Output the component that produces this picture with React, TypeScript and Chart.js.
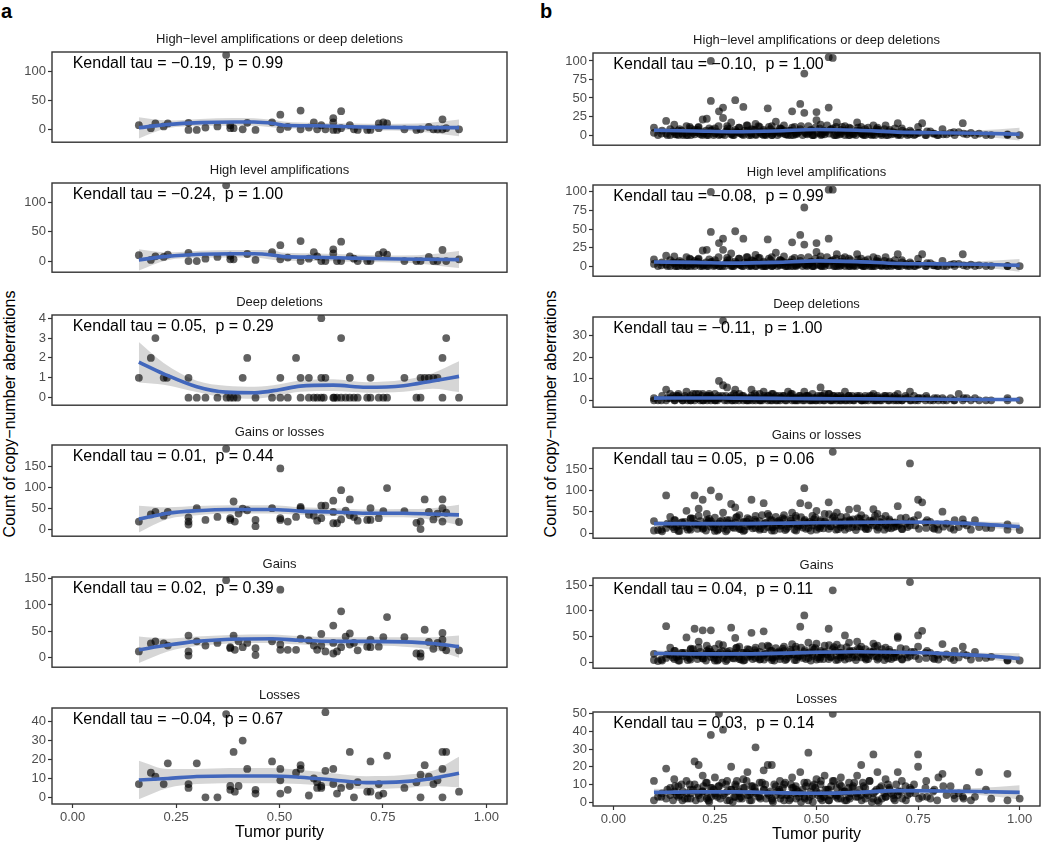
import React, { useEffect, useRef } from "react";
import { Chart, registerables } from "chart.js";

Chart.register(...registerables);

const FONT = "'Liberation Sans', Arial, Helvetica, sans-serif";

// ---------- shared axis data ----------
const purityTicks = [0, 0.25, 0.5, 0.75, 1];
const purityMin = -0.05;
const purityMax = 1.05;

// ---------- panel a (points as [purity, count]) ----------
const aAmpDel: [number, number][] = [
  [0.160, 8], [0.189, 3], [0.200, 11], [0.220, 6], [0.230, 11], [0.280, 0], [0.280, 12], [0.300, 0], [0.321, 4], [0.350, 6],
  [0.371, 128], [0.381, 3], [0.381, 8], [0.389, 3], [0.411, 1], [0.422, 12], [0.442, 0], [0.482, 13], [0.502, 26], [0.502, 1],
  [0.520, 5], [0.551, 33], [0.551, 1], [0.571, 4], [0.583, 13], [0.591, 1], [0.601, 8], [0.611, 1], [0.630, 20], [0.630, 13],
  [0.630, 0], [0.639, 0], [0.649, 32], [0.649, 3], [0.670, 8], [0.680, 1], [0.689, 0], [0.712, 0], [0.720, 0], [0.740, 11],
  [0.740, 3], [0.751, 13], [0.760, 11], [0.802, 1], [0.831, 0], [0.841, 1], [0.861, 5], [0.872, 1], [0.882, 1], [0.894, 18],
  [0.894, 1], [0.903, 3], [0.934, 1],
];
const aAmp: [number, number][] = [
  [0.160, 10], [0.189, 2], [0.200, 8], [0.220, 7], [0.230, 11], [0.280, 14], [0.280, 0], [0.300, 0], [0.321, 4], [0.350, 7],
  [0.371, 129], [0.381, 3], [0.381, 9], [0.389, 3], [0.422, 12], [0.442, 2], [0.482, 15], [0.502, 27], [0.502, 3], [0.520, 6],
  [0.551, 34], [0.551, 0], [0.571, 4], [0.583, 15], [0.591, 8], [0.601, 0], [0.611, 0], [0.630, 20], [0.630, 13], [0.639, 0],
  [0.649, 33], [0.649, 0], [0.670, 8], [0.680, 4], [0.689, 0], [0.712, 0], [0.720, 0], [0.740, 11], [0.751, 15], [0.760, 11],
  [0.802, 0], [0.831, 0], [0.841, 0], [0.861, 7], [0.872, 0], [0.882, 0], [0.894, 19], [0.903, 0], [0.934, 3],
];
const aDel: [number, number][] = [
  [0.160, 1], [0.189, 2], [0.200, 3], [0.220, 1], [0.228, 1], [0.280, 1], [0.280, 0], [0.300, 0], [0.321, 0], [0.350, 0],
  [0.372, 0], [0.381, 0], [0.389, 0], [0.398, 0], [0.411, 1], [0.422, 2], [0.442, 0], [0.482, 0], [0.502, 1], [0.502, 0],
  [0.520, 0], [0.540, 2], [0.551, 1], [0.551, 0], [0.571, 1], [0.571, 0], [0.583, 0], [0.591, 0], [0.601, 0], [0.607, 0],
  [0.601, 1], [0.601, 4], [0.611, 1], [0.630, 0], [0.632, 0], [0.639, 0], [0.649, 0], [0.660, 0], [0.670, 0], [0.680, 0],
  [0.689, 0], [0.649, 3], [0.670, 1], [0.712, 0], [0.720, 1], [0.720, 0], [0.740, 0], [0.751, 0], [0.760, 0], [0.802, 1],
  [0.831, 0], [0.841, 0], [0.841, 1], [0.851, 1], [0.861, 1], [0.872, 1], [0.882, 1], [0.894, 2], [0.903, 3], [0.894, 0],
  [0.934, 0],
];
const aGainLoss: [number, number][] = [
  [0.160, 18], [0.189, 35], [0.200, 41], [0.220, 32], [0.230, 41], [0.280, 28], [0.280, 18], [0.280, 11], [0.300, 50], [0.321, 22],
  [0.350, 29], [0.371, 192], [0.381, 26], [0.381, 22], [0.389, 66], [0.392, 18], [0.401, 37], [0.411, 49], [0.422, 45], [0.442, 22],
  [0.442, 7], [0.482, 50], [0.502, 145], [0.502, 26], [0.502, 22], [0.520, 18], [0.540, 29], [0.551, 53], [0.551, 50], [0.571, 34],
  [0.583, 32], [0.591, 20], [0.601, 56], [0.601, 26], [0.611, 56], [0.630, 68], [0.630, 41], [0.630, 14], [0.639, 14], [0.649, 93],
  [0.649, 23], [0.660, 44], [0.670, 71], [0.670, 33], [0.680, 29], [0.689, 20], [0.712, 22], [0.720, 50], [0.720, 22], [0.740, 26],
  [0.751, 43], [0.760, 98], [0.802, 43], [0.831, 15], [0.841, 0], [0.841, 18], [0.851, 71], [0.861, 41], [0.872, 23], [0.882, 37],
  [0.894, 71], [0.894, 50], [0.894, 18], [0.903, 39], [0.934, 17],
];
const aGain: [number, number][] = [
  [0.160, 12], [0.189, 27], [0.200, 31], [0.220, 27], [0.230, 23], [0.280, 42], [0.280, 12], [0.280, 4], [0.300, 31], [0.321, 23],
  [0.350, 28], [0.371, 147], [0.381, 20], [0.381, 18], [0.389, 42], [0.392, 15], [0.401, 31], [0.411, 20], [0.422, 28], [0.442, 18],
  [0.442, 5], [0.482, 31], [0.502, 129], [0.502, 15], [0.502, 25], [0.520, 15], [0.540, 15], [0.551, 36], [0.571, 33], [0.583, 23],
  [0.591, 15], [0.601, 45], [0.601, 23], [0.611, 12], [0.630, 61], [0.630, 28], [0.630, 8], [0.639, 12], [0.649, 88], [0.649, 20],
  [0.660, 40], [0.670, 46], [0.670, 25], [0.680, 28], [0.689, 14], [0.712, 21], [0.720, 34], [0.720, 20], [0.740, 21], [0.751, 39],
  [0.760, 77], [0.802, 39], [0.831, 8], [0.841, 2], [0.841, 8], [0.851, 53], [0.861, 30], [0.872, 17], [0.882, 28], [0.894, 47],
  [0.894, 34], [0.894, 20], [0.903, 14], [0.934, 14],
];
const aLoss: [number, number][] = [
  [0.160, 7], [0.189, 13], [0.200, 11], [0.220, 7], [0.230, 18], [0.280, 7], [0.280, 5], [0.300, 18], [0.321, 0], [0.350, 0],
  [0.371, 44], [0.381, 6], [0.381, 4], [0.389, 24], [0.392, 3], [0.401, 6], [0.411, 30], [0.422, 15], [0.442, 4], [0.442, 2],
  [0.482, 19], [0.502, 15], [0.502, 9], [0.502, 2], [0.520, 4], [0.540, 13], [0.551, 17], [0.551, 15], [0.571, 1], [0.583, 10],
  [0.591, 8], [0.591, 5], [0.601, 5], [0.601, 6], [0.611, 14], [0.611, 45], [0.630, 15], [0.630, 7], [0.639, 2], [0.649, 5],
  [0.670, 24], [0.670, 6], [0.680, 0], [0.689, 8], [0.712, 3], [0.720, 19], [0.720, 3], [0.740, 1], [0.740, 7], [0.751, 2],
  [0.760, 22], [0.802, 5], [0.831, 8], [0.841, 12], [0.841, 0], [0.851, 17], [0.861, 11], [0.872, 7], [0.882, 9], [0.894, 24],
  [0.894, 15], [0.894, 0], [0.903, 24], [0.934, 3],
];

// smooth fits (loess) for panel a
const aSmoothXA = [0.160, 0.228, 0.309, 0.389, 0.438, 0.486, 0.510, 0.591, 0.672, 0.753, 0.834, 0.934];
const aAmpDelFit = [3.8, 9, 12.4, 13.4, 13.4, 10.8, 8, 7, 5.4, 4.3, 3.8, 3.8];
const aAmpDelLo = [-14.5, 2.7, 6.5, 7, 7, 4, 2.7, 1.6, 0, -1, -2.7, -10.8];
const aAmpDelHi = [21.5, 16, 18.8, 20.4, 20, 17, 14.5, 11.8, 10.8, 10.2, 10.8, 17.7];
const aAmpFit = [2, 8, 11.5, 12.5, 12.5, 10, 7.5, 6.5, 5, 3.8, 3, 2.5];
const aAmpLo = [-16, 1.5, 5.5, 6, 6, 2, 1, 0, -1, -2, -4, -12];
const aAmpHi = [20, 14.5, 17.5, 19, 19, 18, 14, 13, 11, 9.6, 10, 17];

const aSmoothXB = [0.16, 0.22, 0.30, 0.37, 0.44, 0.50, 0.55, 0.63, 0.71, 0.80, 0.87, 0.934];
const aDelFit = [1.79, 1.2, 0.55, 0.28, 0.25, 0.4, 0.58, 0.63, 0.52, 0.6, 0.84, 1.07];
const aDelLo = [0.76, 0.65, 0.28, 0.0, -0.05, 0.12, 0.3, 0.33, 0.25, 0.3, 0.45, 0.28];
const aDelHi = [2.8, 1.75, 0.85, 0.6, 0.55, 0.68, 0.86, 0.93, 0.78, 0.9, 1.23, 1.83];

const aSmoothXC = [0.16, 0.23, 0.30, 0.38, 0.48, 0.55, 0.63, 0.71, 0.80, 0.87, 0.934];
const aGainLossFit = [24, 38, 44, 47, 47, 43, 41, 38, 38, 36, 34];
const aGainLossLo = [-8, 24, 33, 37, 37, 34, 32, 29, 28, 22, 10];
const aGainLossHi = [56, 52, 55, 57, 57, 52, 50, 47, 48, 50, 58];
const aGainFit = [15, 24, 31, 35, 36, 33, 31, 31, 30, 27, 21];
const aGainLo = [-10, 12, 22, 27, 28, 25, 23, 23, 21, 15, 0];
const aGainHi = [40, 36, 40, 43, 44, 41, 39, 39, 39, 39, 42];
const aLossFit = [9.2, 10, 11, 11.3, 11.3, 10.6, 9.2, 7.8, 8.3, 10, 12.7];
const aLossLo = [-1, 5, 7, 7.5, 7.5, 7, 5.8, 4.5, 5, 6, 5.3];
const aLossHi = [19.4, 15, 15, 15.5, 15.5, 14.5, 12.8, 11.2, 11.8, 14, 21.5];

// ---------- panel b: sample group 1 (incl. outliers) ----------
const bPurity = [
  0.10, 0.10, 0.11, 0.12, 0.13, 0.13, 0.14, 0.14, 0.15, 0.15,
  0.16, 0.16, 0.17, 0.18, 0.18, 0.19, 0.19, 0.20, 0.20, 0.21,
  0.21, 0.22, 0.22, 0.23, 0.23, 0.24, 0.24, 0.24, 0.25, 0.25,
  0.26, 0.26, 0.27, 0.27, 0.28, 0.28, 0.29, 0.29, 0.30, 0.30,
  0.31, 0.31, 0.32, 0.32, 0.33, 0.33, 0.34, 0.34, 0.35, 0.35,
  0.36, 0.36, 0.37, 0.37, 0.38, 0.38, 0.39, 0.39, 0.40, 0.40,
  0.41, 0.41, 0.42, 0.42, 0.43, 0.44, 0.44, 0.45, 0.45, 0.46,
  0.46, 0.47, 0.47, 0.48, 0.48, 0.49, 0.49, 0.50, 0.50, 0.51,
  0.51, 0.52, 0.52, 0.53, 0.53, 0.54, 0.54, 0.55, 0.55, 0.56,
  0.56, 0.57, 0.57, 0.58, 0.58, 0.59, 0.60, 0.60, 0.61, 0.61,
  0.62, 0.62, 0.63, 0.64, 0.64, 0.65, 0.65, 0.66, 0.67, 0.67,
  0.68, 0.69, 0.70, 0.70, 0.71, 0.72, 0.73, 0.73, 0.74, 0.75,
  0.75, 0.76, 0.77, 0.78, 0.79, 0.80, 0.81, 0.82, 0.83, 0.84,
  0.85, 0.86, 0.87, 0.88, 0.89, 0.90, 0.93, 0.97, 0.97, 1.00,
];
const bAmpDel = [
  10, 3, 0, 6, 19, 2, 0, 8, 14, 4,
  0, 6, 2, 12, 0, 5, 9, 1, 7, 3,
  11, 21, 4, 22, 0, 100, 46, 6, 2, 9,
  32, 0, 37, 23, 5, 12, 17, 1, 47, 7,
  3, 10, 38, 0, 6, 13, 2, 8, 15, 1,
  4, 11, 0, 7, 36, 3, 12, 0, 18, 5,
  9, 2, 13, 6, 0, 10, 32, 4, 1, 42,
  8, 30, 83, 3, 12, 0, 6, 31, 20, 2,
  14, 5, 1, 105, 37, 104, 9, 0, 17, 4,
  7, 12, 0, 3, 10, 1, 17, 6, 2, 11,
  0, 8, 4, 13, 1, 5, 10, 0, 13, 3,
  7, 2, 16, 0, 9, 4, 1, 6, 0, 11,
  3, 16, 0, 5, 2, 0, 8, 1, 3, 0,
  4, 16, 1, 3, 0, 2, 0, 1, 0, 0,
];
const bAmp = [
  9, 3, 0, 5, 14, 2, 0, 8, 13, 4,
  0, 5, 1, 12, 0, 4, 9, 0, 7, 3,
  10, 21, 3, 22, 0, 100, 46, 5, 1, 8,
  31, 0, 37, 22, 4, 11, 17, 0, 47, 6,
  2, 10, 37, 0, 5, 12, 1, 8, 15, 0,
  3, 11, 0, 6, 36, 2, 12, 0, 18, 4,
  8, 1, 13, 5, 0, 9, 32, 3, 0, 42,
  7, 29, 79, 2, 12, 0, 5, 31, 19, 1,
  13, 4, 0, 103, 37, 103, 8, 0, 16, 3,
  6, 12, 0, 2, 10, 0, 16, 5, 1, 10,
  0, 7, 3, 12, 0, 4, 10, 0, 12, 2,
  6, 1, 16, 0, 8, 3, 0, 5, 0, 10,
  2, 16, 0, 4, 1, 0, 7, 0, 2, 0,
  3, 16, 0, 2, 0, 1, 0, 0, 0, 0,
];
const bDel = [
  0, 1, 0, 2, 5, 0, 1, 3, 0, 1,
  2, 3, 0, 1, 4, 0, 2, 1, 0, 3,
  1, 3, 0, 2, 1, 0, 2, 1, 0, 3,
  9, 1, 37, 7, 0, 6, 2, 1, 5, 0,
  1, 3, 0, 2, 1, 0, 5, 2, 0, 1,
  3, 0, 4, 1, 2, 0, 1, 3, 0, 2,
  1, 0, 2, 1, 4, 0, 3, 1, 0, 2,
  1, 4, 0, 2, 1, 0, 3, 1, 0, 6,
  2, 3, 0, 1, 3, 0, 2, 1, 0, 2,
  1, 4, 0, 2, 1, 0, 1, 2, 0, 1,
  2, 0, 1, 3, 0, 1, 2, 0, 2, 1,
  2, 0, 3, 1, 0, 1, 4, 0, 2, 1,
  0, 1, 2, 0, 1, 0, 1, 0, 1, 0,
  3, 0, 1, 0, 1, 0, 0, 1, 0, 0,
];
const bGainLoss = [
  28, 6, 7, 4, 88, 12, 38, 20, 9, 30,
  18, 5, 25, 52, 14, 33, 8, 88, 22, 57,
  40, 78, 10, 30, 45, 100, 15, 28, 5, 36,
  85, 22, 12, 48, 30, 8, 68, 18, 60, 25,
  10, 42, 26, 5, 35, 16, 78, 22, 12, 40,
  28, 8, 70, 20, 45, 14, 30, 6, 38, 18,
  25, 10, 42, 32, 15, 48, 22, 6, 35, 70,
  18, 105, 28, 65, 12, 40, 24, 8, 52, 30,
  16, 45, 26, 72, 10, 190, 35, 20, 48, 14,
  38, 28, 8, 55, 22, 32, 58, 15, 42, 25,
  12, 35, 20, 56, 30, 8, 45, 24, 18, 40,
  28, 14, 63, 22, 10, 36, 163, 18, 30, 78,
  42, 72, 12, 26, 10, 8, 50, 22, 12, 30,
  14, 32, 18, 8, 30, 14, 12, 20, 8, 7,
];
const bGain = [
  16, 4, 2, 3, 70, 8, 28, 14, 6, 22,
  12, 3, 18, 48, 10, 24, 5, 65, 16, 40,
  28, 62, 7, 22, 32, 62, 10, 20, 3, 26,
  35, 15, 8, 33, 20, 5, 67, 12, 47, 18,
  6, 30, 18, 3, 25, 10, 57, 15, 8, 28,
  20, 5, 60, 14, 32, 9, 22, 4, 27, 12,
  18, 6, 30, 22, 10, 35, 15, 4, 25, 69,
  12, 91, 20, 38, 8, 28, 16, 5, 36, 22,
  10, 32, 18, 65, 6, 140, 25, 13, 34, 9,
  27, 52, 5, 38, 15, 22, 40, 10, 30, 18,
  8, 25, 14, 36, 21, 5, 32, 16, 12, 28,
  20, 9, 47, 50, 6, 25, 156, 12, 20, 52,
  30, 61, 8, 18, 6, 5, 35, 15, 8, 22,
  9, 30, 13, 5, 20, 8, 10, 3, 4, 3,
];
const bLoss = [
  12, 1, 3, 5, 19, 2, 8, 4, 13, 6,
  3, 9, 1, 12, 5, 7, 2, 23, 10, 21,
  4, 15, 6, 2, 11, 38, 8, 3, 14, 5,
  50, 9, 41, 4, 12, 1, 20, 7, 3, 10,
  5, 2, 13, 8, 17, 4, 9, 1, 31, 6,
  11, 3, 7, 18, 21, 5, 21, 2, 9, 4,
  12, 6, 1, 10, 4, 8, 14, 2, 7, 17,
  5, 3, 11, 28, 1, 9, 4, 13, 6, 2,
  10, 3, 15, 7, 1, 50, 12, 4, 8, 2,
  14, 6, 1, 11, 3, 9, 5, 15, 21, 4,
  2, 8, 12, 27, 5, 1, 17, 9, 3, 13,
  7, 2, 17, 4, 12, 1, 8, 5, 10, 27,
  20, 3, 12, 2, 7, 14, 16, 4, 9, 2,
  5, 3, 8, 1, 3, 17, 2, 16, 1, 2,
];

// ---------- panel b: sample group 2 (dense bulk) ----------
const bPurity2 = [
  0.118, 0.133, 0.147, 0.152, 0.163, 0.171, 0.176, 0.188, 0.191, 0.203,
  0.207, 0.214, 0.219, 0.228, 0.231, 0.236, 0.247, 0.251, 0.259, 0.263,
  0.274, 0.277, 0.286, 0.291, 0.297, 0.304, 0.309, 0.317, 0.323, 0.334,
  0.336, 0.343, 0.351, 0.357, 0.366, 0.371, 0.376, 0.387, 0.393, 0.396,
  0.404, 0.411, 0.417, 0.426, 0.433, 0.437, 0.446, 0.449, 0.457, 0.466,
  0.471, 0.477, 0.486, 0.491, 0.497, 0.503, 0.511, 0.517, 0.526, 0.531,
  0.536, 0.546, 0.553, 0.557, 0.563, 0.574, 0.579, 0.584, 0.593, 0.597,
  0.606, 0.611, 0.616, 0.627, 0.631, 0.639, 0.644, 0.653, 0.656, 0.667,
  0.671, 0.679, 0.684, 0.693, 0.696, 0.707, 0.711, 0.719, 0.724, 0.733,
  0.743, 0.752, 0.768, 0.772, 0.787, 0.797, 0.812, 0.838, 0.862, 0.917,
  0.156, 0.168, 0.183, 0.196, 0.209, 0.222, 0.234, 0.243, 0.256, 0.268,
  0.281, 0.294, 0.302, 0.314, 0.328, 0.339, 0.348, 0.362, 0.374, 0.383,
  0.391, 0.408, 0.414, 0.423, 0.436, 0.443, 0.454, 0.462, 0.474, 0.483,
  0.494, 0.508, 0.514, 0.522, 0.534, 0.543, 0.548, 0.561, 0.568, 0.582,
  0.588, 0.602, 0.614, 0.622, 0.636, 0.648, 0.661, 0.676, 0.689, 0.702,
];
const bAmpDel2 = [
  2, 0, 5, 1, 8, 0, 3, 11, 0, 4,
  7, 1, 0, 6, 2, 9, 0, 3, 12, 1,
  0, 5, 8, 2, 0, 4, 10, 1, 6, 0,
  3, 7, 0, 12, 1, 5, 0, 8, 2, 4,
  0, 9, 3, 1, 6, 0, 11, 2, 5, 0,
  4, 1, 7, 0, 10, 3, 0, 6, 13, 2,
  8, 0, 4, 1, 11, 5, 0, 9, 2, 0,
  6, 3, 0, 10, 1, 4, 0, 7, 2, 8,
  0, 5, 1, 9, 3, 0, 6, 2, 0, 4,
  1, 3, 0, 5, 2, 0, 1, 4, 2, 0,
  1, 6, 0, 3, 10, 2, 0, 7, 4, 1,
  9, 0, 5, 2, 13, 0, 7, 3, 1, 11,
  0, 4, 8, 1, 6, 0, 3, 12, 2, 5,
  0, 9, 1, 4, 7, 0, 11, 2, 6, 0,
  3, 10, 1, 5, 0, 8, 2, 0, 4, 1,
];
const bAmp2 = [
  1, 0, 5, 0, 7, 0, 3, 10, 0, 4,
  6, 0, 0, 5, 2, 9, 0, 2, 12, 0,
  0, 4, 8, 1, 0, 3, 10, 0, 5, 0,
  2, 7, 0, 11, 0, 4, 0, 8, 1, 3,
  0, 8, 2, 0, 5, 0, 11, 1, 4, 0,
  3, 0, 6, 0, 10, 2, 0, 5, 12, 1,
  7, 0, 3, 0, 10, 4, 0, 8, 1, 0,
  5, 2, 0, 9, 0, 3, 0, 6, 1, 7,
  0, 4, 0, 8, 2, 0, 5, 1, 0, 3,
  0, 2, 0, 4, 1, 0, 0, 3, 1, 0,
  0, 5, 0, 2, 9, 1, 0, 6, 3, 0,
  8, 0, 4, 1, 12, 0, 6, 2, 0, 10,
  0, 3, 7, 0, 5, 0, 2, 11, 1, 4,
  0, 8, 0, 3, 6, 0, 10, 1, 5, 0,
  2, 9, 0, 4, 0, 7, 1, 0, 3, 0,
];
const bDel2 = [
  0, 1, 2, 0, 1, 0, 2, 1, 0, 3,
  1, 0, 2, 1, 0, 3, 1, 0, 2, 1,
  0, 2, 1, 0, 3, 1, 0, 2, 1, 0,
  1, 0, 2, 1, 0, 2, 1, 0, 3, 1,
  0, 1, 2, 0, 1, 3, 0, 1, 2, 0,
  1, 2, 0, 1, 0, 2, 1, 0, 1, 3,
  0, 1, 2, 0, 1, 0, 2, 1, 0, 1,
  2, 0, 1, 0, 2, 1, 0, 1, 0, 2,
  1, 0, 1, 2, 0, 1, 0, 2, 1, 0,
  0, 1, 0, 1, 0, 1, 0, 0, 1, 0,
  2, 1, 0, 3, 1, 0, 2, 1, 0, 2,
  1, 0, 2, 1, 0, 1, 3, 0, 1, 2,
  0, 2, 1, 0, 2, 1, 0, 1, 2, 0,
  1, 0, 2, 1, 0, 2, 1, 0, 1, 0,
  2, 1, 0, 1, 2, 0, 1, 0, 1, 0,
];
const bGainLoss2 = [
  8, 22, 14, 30, 5, 18, 26, 12, 35, 20,
  10, 28, 16, 6, 24, 33, 13, 20, 9, 27,
  18, 4, 30, 22, 12, 38, 15, 25, 7, 32,
  20, 11, 27, 16, 42, 9, 23, 30, 14, 6,
  26, 17, 35, 10, 21, 29, 8, 40, 19, 13,
  31, 24, 6, 18, 36, 14, 27, 11, 22, 44,
  16, 30, 9, 25, 19, 38, 12, 28, 21, 7,
  34, 15, 24, 10, 29, 18, 40, 13, 26, 8,
  20, 32, 11, 25, 16, 35, 9, 22, 14, 28,
  18, 10, 25, 30, 12, 20, 15, 8, 22, 12,
  15, 25, 8, 34, 19, 12, 28, 21, 6, 30,
  23, 14, 36, 9, 27, 17, 31, 11, 24, 40,
  13, 29, 19, 7, 33, 22, 15, 37, 10, 26,
  32, 11, 21, 28, 16, 39, 8, 25, 18, 30,
  14, 35, 22, 9, 27, 17, 33, 12, 24, 19,
];
const bGain2 = [
  5, 15, 9, 22, 3, 12, 18, 8, 26, 14,
  6, 20, 11, 3, 17, 25, 8, 14, 5, 19,
  12, 2, 22, 15, 7, 28, 10, 18, 4, 24,
  14, 6, 19, 10, 31, 5, 16, 22, 9, 3,
  18, 11, 26, 6, 14, 21, 4, 30, 13, 8,
  23, 17, 3, 12, 27, 9, 19, 6, 15, 33,
  10, 22, 5, 18, 13, 29, 7, 20, 14, 4,
  25, 9, 17, 6, 21, 12, 30, 8, 18, 4,
  14, 24, 6, 18, 10, 27, 5, 15, 9, 20,
  12, 6, 18, 22, 8, 14, 10, 4, 16, 8,
  10, 18, 4, 25, 13, 7, 20, 15, 3, 22,
  16, 8, 27, 5, 19, 11, 23, 6, 17, 30,
  8, 21, 13, 4, 24, 15, 10, 28, 6, 19,
  24, 6, 15, 20, 10, 29, 4, 18, 12, 22,
  9, 26, 15, 5, 19, 11, 25, 7, 17, 13,
];
const bLoss2 = [
  3, 7, 1, 9, 4, 6, 2, 10, 5, 1,
  8, 2, 6, 11, 3, 0, 7, 4, 9, 2,
  5, 10, 1, 7, 3, 12, 6, 2, 8, 4,
  1, 9, 5, 3, 11, 7, 2, 6, 0, 10,
  6, 2, 8, 4, 1, 10, 5, 9, 3, 7,
  2, 11, 6, 0, 8, 4, 12, 3, 7, 1,
  9, 4, 2, 10, 6, 1, 8, 5, 11, 3,
  7, 1, 9, 4, 12, 2, 6, 0, 8, 5,
  3, 8, 5, 1, 10, 6, 2, 9, 4, 7,
  5, 2, 8, 3, 6, 1, 9, 4, 2, 7,
  4, 10, 2, 7, 5, 9, 1, 8, 3, 11,
  6, 0, 9, 3, 12, 5, 8, 2, 10, 4,
  1, 7, 4, 11, 2, 8, 6, 0, 9, 3,
  10, 5, 1, 7, 4, 12, 3, 9, 6, 2,
  8, 3, 11, 5, 0, 7, 2, 10, 4, 6,
];

const bSmoothX = [0.10, 0.20, 0.30, 0.40, 0.50, 0.60, 0.70, 0.80, 0.90, 1.00];
const bAmpDelFit = [6.4, 5.5, 4.5, 5.5, 7.5, 6.5, 4, 3, 2.5, 1];
const bAmpDelLo = [2.5, 3.5, 3, 4, 6, 5, 2.5, 1, -1.5, -7.5];
const bAmpDelHi = [10.5, 7.5, 6, 7, 9, 8, 5.5, 5, 6.5, 10];
const bAmpFit = [5.5, 5, 4, 5, 7, 6, 3.5, 3, 2.5, 1];
const bAmpLo = [1.5, 3, 2.5, 3.5, 5.5, 4.5, 2, 1, -1.5, -7.5];
const bAmpHi = [9.5, 7, 5.5, 6.5, 8.5, 7.5, 5, 5, 6.5, 9.5];
const bDelFit = [1.0, 1.1, 1.0, 0.9, 0.8, 0.7, 0.6, 0.5, 0.4, 0.3];
const bDelLo = [0.3, 0.8, 0.8, 0.7, 0.6, 0.5, 0.4, 0.2, -0.1, -0.6];
const bDelHi = [1.7, 1.4, 1.2, 1.1, 1.0, 0.9, 0.8, 0.8, 0.9, 1.2];
const bGainLossFit = [22, 22, 22, 23, 24, 25, 26, 25, 21, 15];
const bGainLossLo = [15, 19, 20, 21, 22, 23, 23, 21, 15, 5];
const bGainLossHi = [29, 25, 24, 25, 26, 27, 29, 29, 27, 25];
const bGainFit = [17, 16, 16, 17, 19, 20, 19, 17, 13, 7];
const bGainLo = [11, 13, 14, 15, 17, 18, 17, 14, 8, -3];
const bGainHi = [23, 19, 18, 19, 21, 22, 21, 20, 18, 17];
const bLossFit = [5.5, 5.8, 5.8, 5.3, 5, 5.5, 6.5, 6.3, 6, 5.5];
const bLossLo = [3.5, 4.8, 5, 4.7, 4.4, 4.8, 5.7, 5.2, 4, 1.5];
const bLossHi = [7.5, 6.8, 6.6, 5.9, 5.6, 6.2, 7.3, 7.4, 8, 9.5];

// ---------- texts ----------
const panelTitles = [
  "High\u2212level amplifications or deep deletions",
  "High level amplifications",
  "Deep deletions",
  "Gains or losses",
  "Gains",
  "Losses",
];
const aStats = [
  "Kendall tau = \u22120.19,  p = 0.99",
  "Kendall tau = \u22120.24,  p = 1.00",
  "Kendall tau = 0.05,  p = 0.29",
  "Kendall tau = 0.01,  p = 0.44",
  "Kendall tau = 0.02,  p = 0.39",
  "Kendall tau = \u22120.04,  p = 0.67",
];
const bStats = [
  "Kendall tau = \u22120.10,  p = 1.00",
  "Kendall tau = \u22120.08,  p = 0.99",
  "Kendall tau = \u22120.11,  p = 1.00",
  "Kendall tau = 0.05,  p = 0.06",
  "Kendall tau = 0.04,  p = 0.11",
  "Kendall tau = 0.03,  p = 0.14",
];

// y tick labels and ranges
const aYTicks = [[0, 50, 100], [0, 50, 100], [0, 1, 2, 3, 4], [0, 50, 100, 150], [0, 50, 100, 150], [0, 10, 20, 30, 40]];
const bYTicks = [[0, 25, 50, 75, 100], [0, 25, 50, 75, 100], [0, 10, 20, 30], [0, 50, 100, 150], [0, 50, 100, 150], [0, 10, 20, 30, 40, 50]];
const aYRange = [[-21, 133], [-19, 133], [-0.38, 4.16], [-17, 201], [-18, 153], [-3.5, 47.2]];
const bYRange = [[-13.7, 110.7], [-13.6, 109.3], [-3.2, 38.7], [-12, 199], [-12, 164], [-2.2, 51]];

// layout (pixel boxes of each plotting panel)
const aBox = { left: 52, right: 507 };
const bBox = { left: 593, right: 1040 };
const aTops = [52, 183, 315, 445, 577, 708];
const aBottoms = [148, 278, 411, 542, 673, 804];
const bTops = [53, 185, 317, 448, 578, 712];
const bBottoms = [151, 282, 413, 544, 674, 806];

type PanelDef = {
  title: string;
  stat: string;
  points: { x: number; y: number }[];
  sx: number[];
  fit: number[];
  lo: number[];
  hi: number[];
  yRange: number[];
  yTicks: number[];
  left: number;
  right: number;
  top: number;
  bottom: number;
  last: boolean;
};

const pairs = (p: [number, number][]) => p.map(([x, y]) => ({ x, y }));
const zipB = (ys: number[], ys2: number[]) =>
  ys.map((y, i) => ({ x: bPurity[i], y })).concat(ys2.map((y, i) => ({ x: bPurity2[i], y })));

const aPoints = [pairs(aAmpDel), pairs(aAmp), pairs(aDel), pairs(aGainLoss), pairs(aGain), pairs(aLoss)];
const aSX = [aSmoothXA, aSmoothXA, aSmoothXB, aSmoothXC, aSmoothXC, aSmoothXC];
const aFits = [aAmpDelFit, aAmpFit, aDelFit, aGainLossFit, aGainFit, aLossFit];
const aLos = [aAmpDelLo, aAmpLo, aDelLo, aGainLossLo, aGainLo, aLossLo];
const aHis = [aAmpDelHi, aAmpHi, aDelHi, aGainLossHi, aGainHi, aLossHi];

const bPoints = [
  zipB(bAmpDel, bAmpDel2),
  zipB(bAmp, bAmp2),
  zipB(bDel, bDel2),
  zipB(bGainLoss, bGainLoss2),
  zipB(bGain, bGain2),
  zipB(bLoss, bLoss2),
];
const bFits = [bAmpDelFit, bAmpFit, bDelFit, bGainLossFit, bGainFit, bLossFit];
const bLos = [bAmpDelLo, bAmpLo, bDelLo, bGainLossLo, bGainLo, bLossLo];
const bHis = [bAmpDelHi, bAmpHi, bDelHi, bGainLossHi, bGainHi, bLossHi];

const panels: PanelDef[] = [];
for (let i = 0; i < 6; i++) {
  panels.push({
    title: panelTitles[i], stat: aStats[i], points: aPoints[i],
    sx: aSX[i], fit: aFits[i], lo: aLos[i], hi: aHis[i],
    yRange: aYRange[i], yTicks: aYTicks[i],
    left: aBox.left, right: aBox.right, top: aTops[i], bottom: aBottoms[i], last: i === 5,
  });
}
for (let i = 0; i < 6; i++) {
  panels.push({
    title: panelTitles[i], stat: bStats[i], points: bPoints[i],
    sx: bSmoothX, fit: bFits[i], lo: bLos[i], hi: bHis[i],
    yRange: bYRange[i], yTicks: bYTicks[i],
    left: bBox.left, right: bBox.right, top: bTops[i], bottom: bBottoms[i], last: i === 5,
  });
}

const YW = 48;
const TT = 26;
const PR = 4;

function Panel({ p }: { p: PanelDef }) {
  const ref = useRef<HTMLCanvasElement>(null);
  const XH = p.last ? 38 : 4;
  const w = p.right - p.left + YW + PR;
  const h = p.bottom - p.top + TT + XH;

  useEffect(() => {
    const deco = {
      id: "deco",
      afterDatasetsDraw(chart: any) {
        const { ctx, chartArea } = chart;
        const xs = chart.scales.x;
        ctx.save();
        ctx.fillStyle = "#000";
        ctx.font = `16px ${FONT}`;
        ctx.textAlign = "left";
        ctx.textBaseline = "middle";
        ctx.fillText(p.stat, xs.getPixelForValue(0), chartArea.top + 12);
        ctx.restore();
      },
      afterDraw(chart: any) {
        const { ctx, chartArea } = chart;
        ctx.save();
        ctx.strokeStyle = "#333333";
        ctx.lineWidth = 1.4;
        ctx.strokeRect(chartArea.left, chartArea.top, chartArea.right - chartArea.left, chartArea.bottom - chartArea.top);
        ctx.fillStyle = "#1a1a1a";
        ctx.font = `13px ${FONT}`;
        ctx.textAlign = "center";
        ctx.textBaseline = "middle";
        ctx.fillText(p.title, (chartArea.left + chartArea.right) / 2, chartArea.top - 13);
        ctx.restore();
      },
    };

    const line = (ys: number[]) => p.sx.map((x, i) => ({ x, y: ys[i] }));

    const chart = new Chart(ref.current as HTMLCanvasElement, {
      type: "scatter",
      data: {
        datasets: [
          {
            type: "line",
            data: line(p.hi),
            borderColor: "rgba(0,0,0,0)",
            borderWidth: 0,
            pointRadius: 0,
            backgroundColor: "rgba(153,153,153,0.4)",
            fill: "+1",
            cubicInterpolationMode: "monotone",
            order: 4,
          },
          {
            type: "line",
            data: line(p.lo),
            borderColor: "rgba(0,0,0,0)",
            borderWidth: 0,
            pointRadius: 0,
            fill: false,
            cubicInterpolationMode: "monotone",
            order: 3,
          },
          {
            type: "scatter",
            data: p.points,
            pointRadius: 3.9,
            pointBackgroundColor: "rgba(0,0,0,0.62)",
            backgroundColor: "rgba(0,0,0,0.62)",
            borderWidth: 0,
            pointBorderWidth: 0,
            order: 2,
          },
          {
            type: "line",
            data: line(p.fit),
            borderColor: "#4267BC",
            borderWidth: 3.6,
            pointRadius: 0,
            fill: false,
            cubicInterpolationMode: "monotone",
            order: 1,
          },
        ],
      } as any,
      options: {
        responsive: false,
        animation: false,
        events: [],
        layout: { padding: { top: TT, left: 0, right: PR, bottom: 0 } },
        plugins: { legend: { display: false }, tooltip: { enabled: false }, title: { display: false } },
        scales: {
          x: {
            type: "linear",
            min: purityMin,
            max: purityMax,
            afterBuildTicks: (s: any) => {
              s.ticks = purityTicks.map((v) => ({ value: v }));
            },
            afterFit: (s: any) => {
              s.height = XH;
            },
            ticks: {
              display: p.last,
              autoSkip: false,
              maxRotation: 0,
              padding: 2,
              color: "#4d4d4d",
              font: { family: FONT, size: 13 },
              callback: (v: any) => Number(v).toFixed(2),
            },
            grid: {
              display: p.last,
              drawOnChartArea: false,
              drawTicks: true,
              tickLength: 4,
              tickColor: "#333333",
              tickWidth: 1.2,
            },
            border: { display: false },
            title: {
              display: p.last,
              text: "Tumor purity",
              color: "#000",
              font: { family: FONT, size: 16 },
              padding: { top: 3, bottom: 0 },
            },
          },
          y: {
            type: "linear",
            min: p.yRange[0],
            max: p.yRange[1],
            afterBuildTicks: (s: any) => {
              s.ticks = p.yTicks.map((v) => ({ value: v }));
            },
            afterFit: (s: any) => {
              s.width = YW;
            },
            ticks: {
              autoSkip: false,
              padding: 2,
              color: "#4d4d4d",
              font: { family: FONT, size: 13 },
              callback: (v: any) => String(v),
            },
            grid: {
              display: true,
              drawOnChartArea: false,
              drawTicks: true,
              tickLength: 4,
              tickColor: "#333333",
              tickWidth: 1.2,
            },
            border: { display: false },
          },
        },
      } as any,
      plugins: [deco],
    });
    return () => chart.destroy();
  }, []);

  return (
    <canvas
      ref={ref}
      width={w}
      height={h}
      style={{ position: "absolute", left: p.left - YW, top: p.top - TT, width: w, height: h }}
    />
  );
}

const yTitle = "Count of copy\u2212number aberrations";

export default function App() {
  return (
    <div
      style={{
        position: "absolute",
        left: 0,
        top: 0,
        width: 1050,
        height: 846,
        background: "#fff",
        overflow: "hidden",
        fontFamily: FONT,
      }}
    >
      <div style={{ position: "absolute", left: 1, top: 1, fontSize: 20, lineHeight: "20px", fontWeight: "bold", color: "#000" }}>a</div>
      <div style={{ position: "absolute", left: 540, top: 1, fontSize: 20, lineHeight: "20px", fontWeight: "bold", color: "#000" }}>b</div>
      {[10, 551].map((cx) => (
        <div
          key={cx}
          style={{
            position: "absolute",
            left: cx,
            top: 414,
            transform: "translate(-50%, -50%) rotate(-90deg)",
            whiteSpace: "nowrap",
            fontSize: 16,
            lineHeight: "18px",
            color: "#000",
          }}
        >
          {yTitle}
        </div>
      ))}
      {panels.map((p, i) => (
        <Panel key={i} p={p} />
      ))}
    </div>
  );
}
